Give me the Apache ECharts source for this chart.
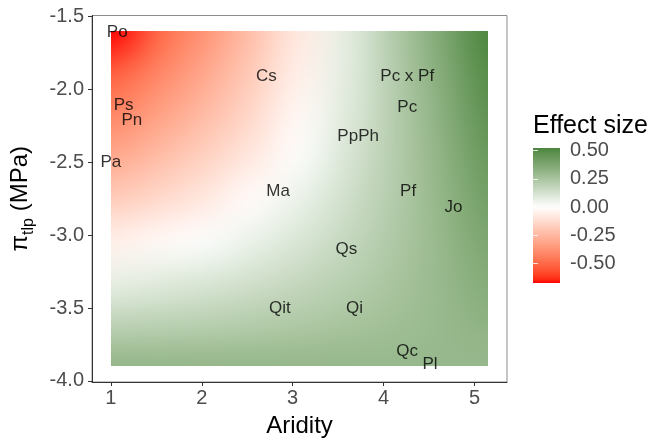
<!DOCTYPE html>
<html><head><meta charset="utf-8">
<script src="https://cdn.jsdelivr.net/npm/echarts@6/dist/echarts.min.js"></script>
<style>html,body{margin:0;padding:0;background:#fff}#c{width:649px;height:443px}</style>
</head><body><div id="c"></div>
<script>
// ---- data ----
const aridityGrid = [1, 1.519, 2.038, 2.556, 3.075, 3.594, 4.113, 4.631, 5.15];
const tlpGrid = [-1.6, -1.8875, -2.175, -2.4625, -2.75, -3.0375, -3.325, -3.6125, -3.9];
// effect size, one row per tlpGrid value (top to bottom), one column per aridityGrid value
const effectSize = [
  [-0.674, -0.505, -0.365, -0.222, -0.076, 0.074, 0.224, 0.373, 0.523],
  [-0.530, -0.415, -0.302, -0.181, -0.054, 0.079, 0.214, 0.353, 0.495],
  [-0.415, -0.328, -0.234, -0.133, -0.025, 0.090, 0.210, 0.336, 0.467],
  [-0.300, -0.232, -0.159, -0.077, 0.012, 0.108, 0.212, 0.322, 0.439],
  [-0.181, -0.133, -0.077, -0.014, 0.056, 0.134, 0.219, 0.312, 0.412],
  [-0.057, -0.026, 0.011, 0.056, 0.108, 0.166, 0.232, 0.304, 0.384],
  [0.066, 0.083, 0.105, 0.133, 0.167, 0.205, 0.250, 0.300, 0.356],
  [0.190, 0.196, 0.205, 0.217, 0.233, 0.252, 0.274, 0.299, 0.328],
  [0.313, 0.311, 0.310, 0.308, 0.307, 0.305, 0.303, 0.302, 0.300]
];
const speciesNames = ['Po', 'Cs', 'Ps', 'Pn', 'Pa', 'Ma', 'Pc x Pf', 'Pc', 'PpPh', 'Pf', 'Jo', 'Qs', 'Qit', 'Qi', 'Qc', 'Pl'];
const speciesAridity = [1.07, 2.71, 1.14, 1.23, 1.0, 2.84, 4.26, 4.26, 3.72, 4.27, 4.77, 3.59, 2.86, 3.68, 4.26, 4.51];
const speciesTlp = [-1.61, -1.91, -2.11, -2.21, -2.5, -2.7, -1.91, -2.12, -2.32, -2.7, -2.81, -3.1, -3.5, -3.5, -3.8, -3.89];
const xTicks = [1, 2, 3, 4, 5];
const yTicks = [-4, -3.5, -3, -2.5, -2, -1.5];
const legendTicks = [-0.5, -0.25, 0, 0.25, 0.5];

// ---- colour scale (diverging, Lab interpolation, midpoint 0) ----
function s2l(c){c/=255;return c<=0.04045?c/12.92:Math.pow((c+0.055)/1.055,2.4);}
function l2s(c){c=c<=0.0031308?12.92*c:1.055*Math.pow(c,1/2.4)-0.055;return Math.round(Math.max(0,Math.min(1,c))*255);}
function hexRgb(h){return [parseInt(h.substr(1,2),16),parseInt(h.substr(3,2),16),parseInt(h.substr(5,2),16)];}
function rgbToLab(rgb){
  const r=s2l(rgb[0]),g=s2l(rgb[1]),b=s2l(rgb[2]);
  const X=(0.4124*r+0.3576*g+0.1805*b)/0.95047,Y=0.2126*r+0.7152*g+0.0722*b,Z=(0.0193*r+0.1192*g+0.9505*b)/1.08883;
  const f=t=>t>0.008856?Math.cbrt(t):7.787*t+16/116;
  const fx=f(X),fy=f(Y),fz=f(Z);
  return [116*fy-16,500*(fx-fy),200*(fy-fz)];
}
function labToRgb(lab){
  const fy=(lab[0]+16)/116,fx=fy+lab[1]/500,fz=fy-lab[2]/200;
  const fi=t=>{const t3=t*t*t;return t3>0.008856?t3:(t-16/116)/7.787;};
  const X=0.95047*fi(fx),Y=fi(fy),Z=1.08883*fi(fz);
  return [l2s(3.2406*X-1.5372*Y-0.4986*Z),l2s(-0.9689*X+1.8758*Y+0.0415*Z),l2s(0.0557*X-0.2040*Y+1.0570*Z)];
}
const LOW=rgbToLab(hexRgb('#FF0000')),MID=rgbToLab(hexRgb('#FFFFFF')),HIGH=rgbToLab(hexRgb('#006400'));
const allVals=[].concat(...effectSize);
const eMin=Math.min(...allVals),eMax=Math.max(...allVals);
const lim=Math.max(Math.abs(eMin),Math.abs(eMax));
function effRgb(v){
  const t=0.5+v/(2*lim);
  let a,b,f;
  if(t<0.5){a=LOW;b=MID;f=t/0.5;}else{a=MID;b=HIGH;f=(t-0.5)/0.5;}
  return labToRgb([a[0]+(b[0]-a[0])*f,a[1]+(b[1]-a[1])*f,a[2]+(b[2]-a[2])*f]);
}
function effCss(v){const c=effRgb(v);return 'rgb('+c[0]+','+c[1]+','+c[2]+')';}

// ---- raster image (browser smoothing, like an interpolated raster) ----
let rasterCache=null;
function raster(W,H){
  W=Math.max(1,Math.round(W));H=Math.max(1,Math.round(H));
  if(rasterCache&&rasterCache.width===W&&rasterCache.height===H)return rasterCache;
  const nx=aridityGrid.length,ny=tlpGrid.length;
  const sm=document.createElement('canvas');sm.width=nx;sm.height=ny;
  const sctx=sm.getContext('2d');const img=sctx.createImageData(nx,ny);
  for(let i=0;i<ny;i++)for(let j=0;j<nx;j++){
    const c=effRgb(effectSize[i][j]);const k=(i*nx+j)*4;
    img.data[k]=c[0];img.data[k+1]=c[1];img.data[k+2]=c[2];img.data[k+3]=255;
  }
  sctx.putImageData(img,0,0);
  const big=document.createElement('canvas');big.width=W;big.height=H;
  const bctx=big.getContext('2d');bctx.imageSmoothingEnabled=true;bctx.imageSmoothingQuality='high';
  bctx.drawImage(sm,0.5,0.5,nx-1,ny-1,0,0,W,H);
  rasterCache=big;return big;
}

const FONT='Liberation Sans';
const aMin=aridityGrid[0],aMax=aridityGrid[aridityGrid.length-1];
const tTop=tlpGrid[0],tBot=tlpGrid[tlpGrid.length-1];
const xPad=0.05*(aMax-aMin),yPad=0.047*(tTop-tBot);

const legendStops=[];
for(let k=0;k<=40;k++){const v=eMax-(eMax-eMin)*k/40;legendStops.push({offset:k/40,color:effCss(v)});}

const chart=echarts.init(document.getElementById('c'),null,{renderer:'canvas'});
chart.setOption({
  animation:false,
  backgroundColor:'#fff',
  textStyle:{fontFamily:FONT},
  grid:[
    {left:91,top:15.5,width:416,height:369.5,show:true,borderColor:'#8c8c8c',borderWidth:1,backgroundColor:'#fff'},
    {left:533,top:148,width:27,height:135}
  ],
  xAxis:[
    {type:'value',gridIndex:0,min:aMin-xPad,max:aMax+xPad,splitLine:{show:false},
     axisLine:{show:true,onZero:false,lineStyle:{color:'#333',width:1}},
     axisTick:{show:true,length:4,customValues:xTicks,lineStyle:{color:'#333'}},
     axisLabel:{customValues:xTicks,fontSize:20,color:'#4D4D4D',margin:6,fontFamily:FONT},
     name:'Aridity',nameLocation:'middle',nameGap:32,nameTextStyle:{fontSize:24,color:'#000',fontFamily:FONT}},
    {type:'value',gridIndex:1,min:0,max:1,show:false}
  ],
  yAxis:[
    {type:'value',gridIndex:0,min:tBot-yPad,max:tTop+yPad,splitLine:{show:false},
     axisLine:{show:true,onZero:false,lineStyle:{color:'#333',width:1}},
     axisTick:{show:true,length:4,customValues:yTicks,lineStyle:{color:'#333'}},
     axisLabel:{customValues:yTicks,fontSize:20,color:'#4D4D4D',margin:8,fontFamily:FONT,formatter:v=>Number(v).toFixed(1)},
     name:'{a|π}{b|tlp}{a| (MPa)}',nameLocation:'middle',nameRotate:90,nameGap:55,
     nameTextStyle:{fontFamily:FONT,rich:{
       a:{fontSize:24,color:'#000',lineHeight:34,verticalAlign:'middle',fontFamily:FONT},
       b:{fontSize:16,color:'#000',lineHeight:16,verticalAlign:'bottom',fontFamily:FONT}}}},
    {type:'value',gridIndex:1,position:'right',min:eMin,max:eMax,z:10,splitLine:{show:false},
     axisLine:{show:false},
     axisTick:{show:true,inside:true,length:5,customValues:legendTicks,lineStyle:{color:'rgba(255,255,255,0.8)',width:1}},
     axisLabel:{customValues:legendTicks,fontSize:20,color:'#4D4D4D',margin:10,fontFamily:FONT,formatter:v=>Number(v).toFixed(2)}},
    {type:'value',gridIndex:1,position:'left',min:eMin,max:eMax,z:10,splitLine:{show:false},
     axisLine:{show:false},
     axisTick:{show:true,inside:true,length:5,customValues:legendTicks,lineStyle:{color:'rgba(255,255,255,0.8)',width:1}},
     axisLabel:{show:false}}
  ],
  graphic:[{type:'text',left:533,top:114,style:{text:'Effect size',fontSize:25,fill:'#000',fontFamily:FONT}}],
  series:[
    {type:'custom',xAxisIndex:0,yAxisIndex:0,silent:true,z:1,
     data:[[aMin,tTop,aMax,tBot]],encode:{x:[0,2],y:[1,3]},
     renderItem:function(params,api){
       const p0=api.coord([api.value(0),api.value(1)]);
       const p1=api.coord([api.value(2),api.value(3)]);
       const W=p1[0]-p0[0],H=p1[1]-p0[1];
       return {type:'image',style:{image:raster(W,H),x:p0[0],y:p0[1],width:W,height:H}};
     }},
    {type:'scatter',xAxisIndex:0,yAxisIndex:0,z:5,symbolSize:1,silent:true,
     itemStyle:{color:'rgba(0,0,0,0)'},
     data:speciesNames.map((n,i)=>({name:n,value:[speciesAridity[i],speciesTlp[i]]})),
     label:{show:true,position:'inside',formatter:'{b}',fontSize:17,color:'#000',textBorderWidth:0,fontFamily:FONT}},
    {type:'custom',xAxisIndex:1,yAxisIndex:1,silent:true,z:2,
     data:[[0,eMax,1,eMin]],encode:{x:[0,2],y:[1,3]},
     renderItem:function(params,api){
       const p0=api.coord([api.value(0),api.value(1)]);
       const p1=api.coord([api.value(2),api.value(3)]);
       return {type:'rect',shape:{x:p0[0],y:p0[1],width:p1[0]-p0[0],height:p1[1]-p0[1]},
         style:{fill:new echarts.graphic.LinearGradient(0,0,0,1,legendStops)}};
     }}
  ]
});
</script></body></html>
